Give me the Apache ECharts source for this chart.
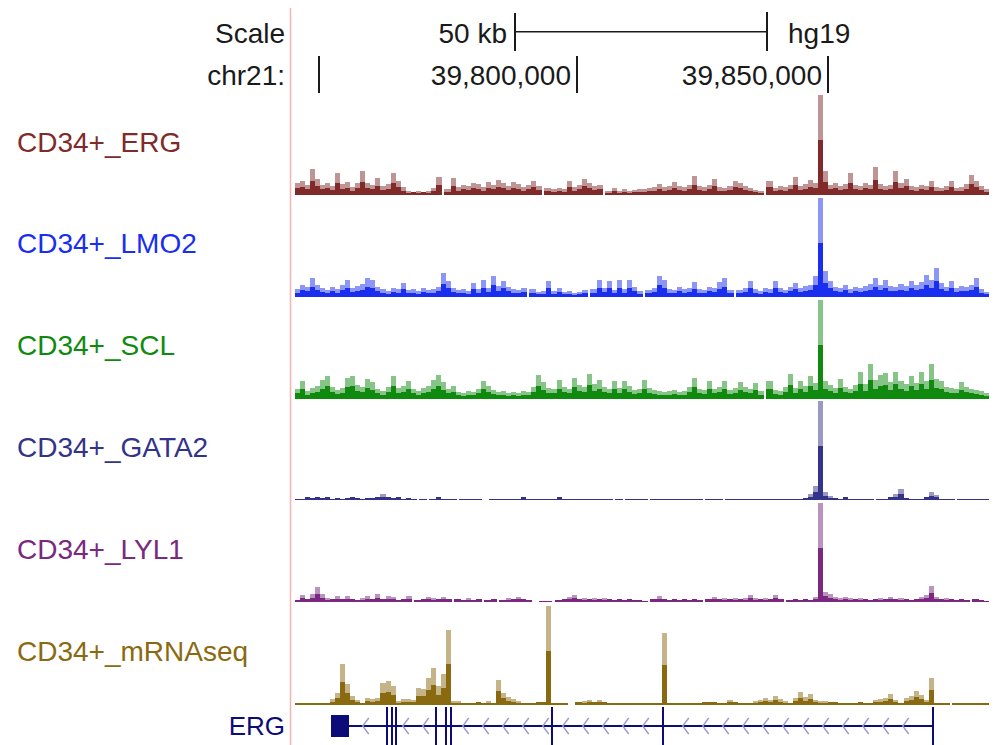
<!DOCTYPE html>
<html>
<head>
<meta charset="utf-8">
<script src="https://cdn.jsdelivr.net/npm/echarts@6/dist/echarts.min.js"></script>
<style>
  html, body { margin: 0; padding: 0; background: #ffffff; }
  #chart { width: 996px; height: 745px; }
</style>
</head>
<body>
<div id="chart"></div>
<script>
// ---- genome window (chr21, hg19), kb ----
const viewStartKb = 39743.8;
const viewEndKb = 39882.2;

// ---- signal bins: 1 kb each ----
const binStartKb = 39744;
const binSizeKb = 1;

// ---- ruler ----
const rulerTickKb = [39748.8, 39800, 39850];
const rulerTickLabels = ['', '39,800,000', '39,850,000'];
const scaleBarStartKb = 39787.8;
const scaleBarLengthKb = 50;
const scaleBarLabel = '50 kb';
const assemblyLabel = 'hg19';

// ---- tracks ----
const trackNames = ['CD34+_ERG', 'CD34+_LMO2', 'CD34+_SCL', 'CD34+_GATA2', 'CD34+_LYL1', 'CD34+_mRNAseq'];
const trackColors = ['#802a2a', '#1a2ef0', '#0f8a0f', '#33338a', '#7a2880', '#8a6a10'];

const ergSignal = [
  12,14,10,26,16, 10,12,9,22,11,
  13,8,12,24,12, 10,17,9,11,22,
  14,8,4,3,4, 3,4,7,18,null,
  6,17,8,10,9, 12,11,8,13,10,
  15,12,9,13,11, 8,10,14,9,null,
  7,6,7,6,14, 8,10,16,12,9,
  10,null,4,7,4, 6,4,5,6,6,
  7,8,11,8,9, 13,9,8,10,19,
  9,8,10,16,8, 7,9,14,12,9,
  7,5,4,null,14, 7,9,8,10,18,
  9,11,15,12,100, 24,10,12,9,11,
  22,10,9,12,10, 28,11,9,10,24,
  12,16,9,8,10, 9,14,8,7,9,
  14,7,8,11,20, 14,9,6
];

const lmo2Signal = [
  8,12,10,19,12, 9,7,10,8,12,
  17,9,11,13,19, 17,10,8,6,9,
  8,14,7,8,6, 9,7,8,10,24,
  16,9,7,8,6, 14,8,17,9,21,
  11,16,10,8,7, 9,null,8,5,6,
  16,6,9,5,6, 4,5,7,null,8,
  17,9,16,7,17, 8,17,10,6,null,
  7,9,21,17,8, 7,10,8,9,15,
  8,7,10,9,15, 19,7,null,7,9,
  16,8,6,9,8, 16,9,7,10,14,
  9,11,12,21,99, 26,16,10,9,12,
  8,10,9,11,13, 19,12,17,11,10,
  13,11,16,12,15, 22,17,29,14,10,
  16,9,11,10,12, 19,8,5
];

const sclSignal = [
  10,18,8,11,13, 19,23,12,9,11,
  21,23,14,12,20, 17,10,8,12,23,
  11,13,18,10,8, 11,13,19,24,17,
  10,13,7,6,8, 7,10,18,13,9,
  7,8,6,7,6, 8,7,12,24,17,
  11,10,19,12,10, 21,14,12,25,15,
  19,12,10,18,11, 18,13,9,10,19,
  11,9,8,7,8, 9,7,8,12,21,
  10,9,18,10,12, 18,9,11,17,12,
  10,16,8,null,18, 9,8,12,25,11,
  18,13,23,16,99, 18,14,11,20,12,
  10,14,27,15,35, 19,24,26,17,27,
  18,15,23,16,27, 18,35,20,18,12,
  11,10,17,12,10, 9,8,6
];

const gata2Signal = [
  1,1,3,2,3, 2,3,1,2,1,
  2,3,2,1,2, 2,3,6,3,2,
  3,1,2,1,null, 1,null,1,3,1,
  1,1,null,1,1, 1,1,null,null,1,
  1,1,1,1,1, 3,1,1,1,1,
  1,1,3,1,1, 1,1,1,1,1,
  1,1,1,null,1, null,1,1,1,1,
  null,1,1,1,1, 1,1,1,1,1,
  1,null,1,1,1, null,1,1,1,1,
  1,1,1,1,1, 1,1,1,1,1,
  1,2,6,14,99, 8,4,2,1,3,
  1,1,1,1,1, null,1,1,3,6,
  11,2,1,1,1, 3,8,5,1,1,
  1,null,1,1,1, 1,1,1
];

const lyl1Signal = [
  2,7,3,8,15, 8,4,3,6,3,
  6,3,2,4,6, 3,8,3,6,5,
  2,3,6,null,2, 3,5,4,3,5,
  3,null,3,2,4, 2,3,null,2,3,
  null,2,4,3,5, 3,2,null,null,1,
  1,null,2,3,5, 7,3,4,3,4,
  3,4,3,2,3, 2,3,2,2,1,
  null,3,6,3,2, 3,2,3,2,3,
  2,null,3,5,3, 4,3,4,3,4,
  7,4,3,4,3, 7,3,null,2,3,
  2,3,2,5,99, 10,8,5,4,5,
  4,3,4,3,2, 3,4,3,5,3,
  4,3,2,3,5, 7,16,5,3,4,
  3,2,3,2,null, 3,2,1
];

const mrnaSignal = [
  2,2,2,2,2, 2,2,6,12,41,
  21,9,5,2,7, 6,7,22,24,19,
  4,6,6,5,17, 16,27,37,19,31,
  75,4,4,2,2, 2,3,2,4,2,
  25,12,8,6,4, 2,2,2,3,3,
  99,2,2,2,null, null,3,4,5,3,
  5,3,2,2,2, 2,2,2,2,2,
  2,2,2,72,2, 2,2,2,2,2,
  2,3,3,3,2, 2,5,3,2,2,
  2,4,5,7,5, 9,6,4,2,7,
  13,8,11,5,4, 4,3,3,2,2,
  2,2,3,2,2, 5,6,7,11,5,
  2,7,9,14,10, 5,27,2,2,2,
  null,2,2,2,2, 2,2,2
];

const trackSignals = [ergSignal, lmo2Signal, sclSignal, gata2Signal, lyl1Signal, mrnaSignal];

// ---- gene model: ERG (minus strand) ----
const geneName = 'ERG';
const geneColor = '#0c0c78';
const geneSpanKb = [39751.10, 39870.93];
const geneUtrKb = [[39751.10, 39754.80]];
const geneExonKb = [39762.39, 39763.25, 39764.04, 39771.99, 39774.08, 39775.02, 39795.10, 39817.24, 39870.93];

// ---- layout ----
const plotLeft = 294;
const plotWidth = 696;
const trackTop = [95, 197, 299, 400, 502, 605];
const trackHeight = 100;
const labelFont = '28px "Liberation Sans", Arial, sans-serif';
const inkColor = '#1a1a1a';
// share of each bar drawn in full colour; the rest is a paler tip
const solidShare = 0.55;

// one bar per bin: solid lower part and paler upper part; bins next to a
// data gap stretch a little into it so gaps read as thin breaks
function makeBinRenderer(signal) {
  return function (params, api) {
    const j = params.dataIndex;
    const v = signal[j];
    if (v === null || v === undefined) return;
    const start = api.value(0);
    const base = api.coord([start, 0]);
    const tip = api.coord([start + binSizeKb, v]);
    let x0 = Math.round(base[0]);
    let x1 = Math.round(tip[0]);
    if (j > 0 && signal[j - 1] === null) x0 -= 2;
    if (j < signal.length - 1 && signal[j + 1] === null) x1 += 1;
    const yb = Math.round(base[1]);
    const h = Math.max(1, Math.round(base[1] - tip[1]));
    const color = api.visual('color');
    const hSolid = h <= 3 ? h : Math.max(2, Math.round(h * solidShare));
    const children = [{
      type: 'rect',
      shape: { x: x0, y: yb - hSolid, width: x1 - x0, height: hSolid },
      style: { fill: color }
    }];
    if (h > hSolid) {
      children.push({
        type: 'rect',
        shape: { x: x0, y: yb - h, width: x1 - x0, height: h - hSolid },
        style: { fill: color, opacity: 0.5 }
      });
    }
    return { type: 'group', children: children };
  };
}

function renderRuler(params, api) {
  const idx = api.value(1);
  const x = Math.round(api.coord([api.value(0), 0])[0]);
  const children = [{
    type: 'rect', shape: { x: x - 1, y: 56, width: 2, height: 37 }, style: { fill: inkColor }
  }];
  const label = rulerTickLabels[idx];
  if (label) {
    children.push({
      type: 'text', x: x - 6, y: 75,
      style: { text: label, align: 'right', verticalAlign: 'middle', font: labelFont, fill: inkColor }
    });
  }
  return { type: 'group', children: children };
}

function renderScaleBar(params, api) {
  const a = Math.round(api.coord([api.value(0), 0])[0]);
  const b = Math.round(api.coord([api.value(1), 0])[0]);
  return {
    type: 'group',
    children: [
      { type: 'rect', shape: { x: a, y: 31, width: b - a, height: 1.5 }, style: { fill: inkColor } },
      { type: 'rect', shape: { x: a - 1, y: 13, width: 2, height: 38 }, style: { fill: inkColor } },
      { type: 'rect', shape: { x: b - 1, y: 12, width: 2, height: 39 }, style: { fill: inkColor } },
      { type: 'text', x: a - 8, y: 33,
        style: { text: scaleBarLabel, align: 'right', verticalAlign: 'middle', font: labelFont, fill: inkColor } },
      { type: 'text', x: b + 21, y: 33,
        style: { text: assemblyLabel, align: 'left', verticalAlign: 'middle', font: labelFont, fill: inkColor } }
    ]
  };
}

function renderGene(params, api) {
  const top = params.coordSys.y;
  const midY = top + 21;
  const px = function (k) { return api.coord([k, 0])[0]; };
  const x0 = px(api.value(0));
  const x1 = px(api.value(1));
  const children = [];
  children.push({ type: 'rect', shape: { x: Math.round(x0), y: midY - 1, width: Math.round(x1 - x0), height: 2 },
                  style: { fill: geneColor } });
  const exonPx = geneExonKb.map(px);
  const utrEndPx = px(geneUtrKb[geneUtrKb.length - 1][1]);
  for (let t = x0 + 12; t < x1 - 14; t += 20) {
    if (t < utrEndPx + 4) continue;
    if (exonPx.some(function (e) { return Math.abs(e - t) < 5; })) continue;
    children.push({
      type: 'polyline',
      shape: { points: [[t + 6, midY - 8], [t, midY], [t + 6, midY + 8]] },
      style: { stroke: '#9a9ad8', lineWidth: 1.4, fill: null }
    });
  }
  geneUtrKb.forEach(function (u) {
    const a = Math.round(px(u[0])), b = Math.round(px(u[1]));
    children.push({ type: 'rect', shape: { x: a, y: top + 10, width: b - a, height: 22 }, style: { fill: geneColor } });
  });
  exonPx.forEach(function (e) {
    children.push({ type: 'rect', shape: { x: Math.round(e) - 1, y: top + 2, width: 2, height: 38 }, style: { fill: geneColor } });
  });
  return { type: 'group', children: children };
}

const grids = [];
const xAxes = [];
const yAxes = [];
const series = [];

trackSignals.forEach(function (signal, i) {
  grids.push({ left: plotLeft, width: plotWidth, top: trackTop[i], height: trackHeight });
  xAxes.push({ type: 'value', gridIndex: i, min: viewStartKb, max: viewEndKb, show: false });
  yAxes.push({ type: 'value', gridIndex: i, min: 0, max: 100, show: false });
  series.push({
    type: 'custom',
    name: trackNames[i],
    xAxisIndex: i, yAxisIndex: i,
    itemStyle: { color: trackColors[i] },
    renderItem: makeBinRenderer(signal),
    encode: { x: 0, y: 1 },
    clip: false,
    silent: true,
    data: signal.map(function (v, j) { return [binStartKb + j * binSizeKb, v]; })
  });
});

// ruler grid
const rulerIdx = grids.length;
grids.push({ left: plotLeft, width: plotWidth, top: 0, height: 95 });
xAxes.push({ type: 'value', gridIndex: rulerIdx, min: viewStartKb, max: viewEndKb, show: false });
yAxes.push({ type: 'value', gridIndex: rulerIdx, min: 0, max: 1, show: false });
series.push({
  type: 'custom', xAxisIndex: rulerIdx, yAxisIndex: rulerIdx, clip: false, silent: true,
  renderItem: renderRuler, encode: { x: 0 },
  data: rulerTickKb.map(function (k, i) { return [k, i]; })
});
series.push({
  type: 'custom', xAxisIndex: rulerIdx, yAxisIndex: rulerIdx, clip: false, silent: true,
  renderItem: renderScaleBar, encode: { x: [0, 1] },
  data: [[scaleBarStartKb, scaleBarStartKb + scaleBarLengthKb]]
});

// gene grid
const geneIdx = grids.length;
grids.push({ left: plotLeft, width: plotWidth, top: 705, height: 40 });
xAxes.push({ type: 'value', gridIndex: geneIdx, min: viewStartKb, max: viewEndKb, show: false });
yAxes.push({ type: 'value', gridIndex: geneIdx, min: 0, max: 1, show: false });
series.push({
  type: 'custom', name: geneName, xAxisIndex: geneIdx, yAxisIndex: geneIdx, clip: false, silent: true,
  renderItem: renderGene, encode: { x: [0, 1] },
  data: [geneSpanKb]
});

// left-hand labels and divider
const graphics = [
  { type: 'line', shape: { x1: 290.5, y1: 8, x2: 290.5, y2: 745 }, style: { stroke: '#f6b4b4', lineWidth: 1.5 } },
  { type: 'text', x: 285, y: 33, style: { text: 'Scale', align: 'right', verticalAlign: 'middle', font: labelFont, fill: inkColor } },
  { type: 'text', x: 285, y: 75, style: { text: 'chr21:', align: 'right', verticalAlign: 'middle', font: labelFont, fill: inkColor } },
  { type: 'text', x: 285, y: 726, style: { text: geneName, align: 'right', verticalAlign: 'middle',
      font: '26px "Liberation Sans", Arial, sans-serif', fill: geneColor } }
];
trackNames.forEach(function (name, i) {
  graphics.push({
    type: 'text', x: 17, y: 142 + 101.9 * i,
    style: { text: name, align: 'left', verticalAlign: 'middle', font: labelFont, fill: trackColors[i] }
  });
});

const chart = echarts.init(document.getElementById('chart'), null, { renderer: 'svg', width: 996, height: 745 });
chart.setOption({
  animation: false,
  backgroundColor: '#ffffff',
  grid: grids,
  xAxis: xAxes,
  yAxis: yAxes,
  series: series,
  graphic: graphics
});
</script>
</body>
</html>
